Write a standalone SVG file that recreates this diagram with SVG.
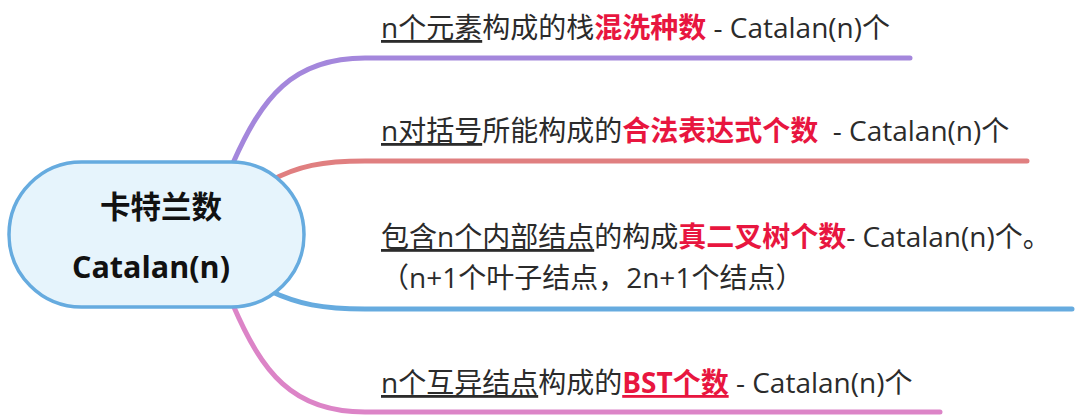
<svg xmlns="http://www.w3.org/2000/svg" width="1080" height="416" viewBox="0 0 1080 416">
<style>
.conn{fill:none;stroke-width:5;stroke-linecap:round}
.t{font-family:"Open Sans","Noto Sans CJK SC",sans-serif;font-size:28px;fill:#2b2b2b;white-space:pre}
.u{text-decoration:underline}
.r{fill:#e8163f;font-weight:bold}
.c{font-family:"Open Sans","Noto Sans CJK SC",sans-serif;font-size:30.5px;font-weight:bold;fill:#111;text-anchor:middle}
</style>
<rect width="1080" height="416" fill="#fff"/>
<g id="connectors">
<path class="conn" stroke="#a487dc" d="M233 163 C262 98 292 58 365 58 H910"/>
<path class="conn" stroke="#e07f80" d="M270 181 C298 166 322 161 365 161 H1027"/>
<path class="conn" stroke="#66abdf" d="M270 291 C298 304 322 309 365 309 H1072"/>
<path class="conn" stroke="#dc84c7" d="M233 305 C262 372 292 412 365 412 H940"/>
</g>
<g id="root">
<rect x="9" y="162" width="295" height="145" rx="72.5" fill="#e6f4fc" stroke="#66abdf" stroke-width="3.5"/>
<text class="c" x="161" y="218">卡特兰数</text>
<text class="c" x="151" y="278">Catalan(n)</text>
</g>
<g id="b1">
<text class="t" x="381" y="38"><tspan class="u">n个元素</tspan>构成的栈<tspan class="r">混洗种数</tspan> - Catalan(n)个</text>
</g>
<g id="b2">
<text class="t" x="381" y="141"><tspan class="u">n对括号</tspan>所能构成的<tspan class="r">合法表达式个数</tspan>  - Catalan(n)个</text>
</g>
<g id="b3">
<text class="t" x="381" y="247"><tspan class="u">包含n个内部结点</tspan>的构成<tspan class="r">真二叉树个数</tspan>- Catalan(n)个。</text>
<text class="t" x="381" y="288">（n+1个叶子结点，2n+1个结点）</text>
</g>
<g id="b4">
<text class="t" x="381" y="393"><tspan class="u">n个互异结点</tspan>构成的<tspan class="r u">BST个数</tspan> - Catalan(n)个</text>
</g>
</svg>
